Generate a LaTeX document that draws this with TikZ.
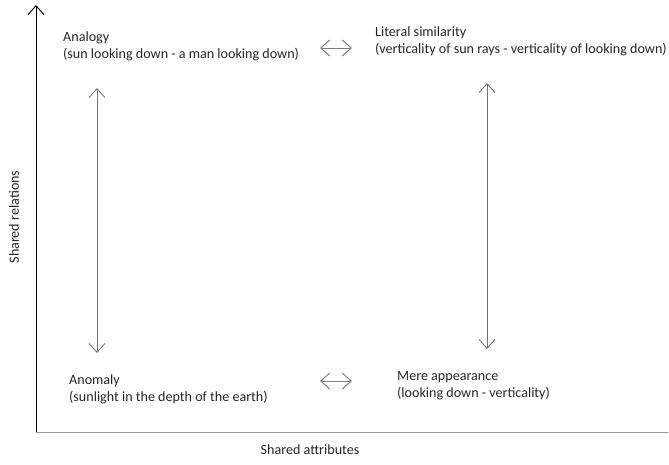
\documentclass[tikz,border=0pt]{standalone}
\usepackage{fontspec}
\setmainfont{Carlito}
\usetikzlibrary{arrows.meta}

\begin{document}
\begin{tikzpicture}[x=1pt,y=-1pt,>={Straight Barb[length=9pt,width=16pt]},
  txt/.style={anchor=north west,inner sep=0pt,align=left,text=black!85,
    font=\fontsize{14.1}{17}\selectfont},
  lbl/.style={inner sep=0pt,text=black!85,font=\fontsize{14.1}{17}\selectfont},
  link/.style={draw=black!55,line width=0.8pt},
  dbl/.style={draw=black!50,line width=1pt}]

\useasboundingbox (0,0) rectangle (669,464);

% corners of the quadrant
\node[txt]   (analogy)  at (63,32)   {Analogy\\(sun looking down - a man looking down)};
\node[txt]   (literal)  at (375,27)  {Literal similarity\\(verticality of sun rays - verticality of looking down)};
\node[txt]   (anomaly)  at (69,375)  {Anomaly\\(sunlight in the depth of the earth)};
\node[txt]   (mere)     at (397,371) {Mere appearance\\(looking down - verticality)};

% axes
\coordinate (o)  at (36,432);
\coordinate (yt) at (36,5);
\coordinate (xr) at (668,432);
\node[lbl,rotate=90] (rel) at (14,217)  {Shared relations};
\node[lbl]           (att) at (310,450) {Shared attributes};

% arrow ends
\coordinate (a1) at (97,88);
\coordinate (a2) at (97,353);
\coordinate (b1) at (487,83);
\coordinate (b2) at (487,349);
\coordinate (c1) at (320,48);
\coordinate (c2) at (352,48);
\coordinate (d1) at (320,381);
\coordinate (d2) at (352,381);

\draw[->,line width=0.9pt] (o) -- (yt);
\draw[draw=black!40,line width=1pt] (o) -- (xr);

\path[link] (a1) edge[<->] (a2)
            (b1) edge[<->] (b2);
\path[dbl]  (c1) edge[<->] (c2)
            (d1) edge[<->] (d2);
\end{tikzpicture}
\end{document}
